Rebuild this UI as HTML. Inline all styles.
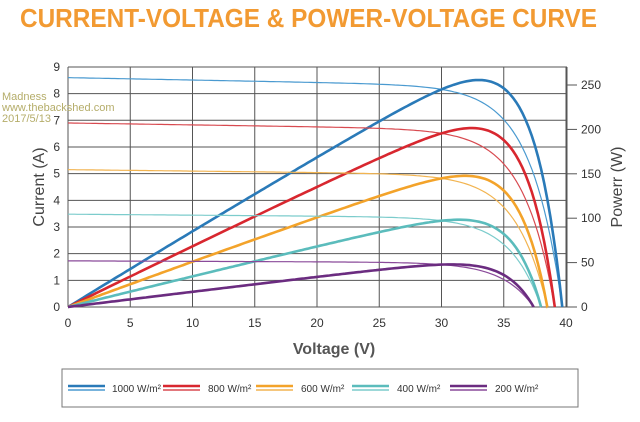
<!DOCTYPE html>
<html><head><meta charset="utf-8"><style>
body{margin:0;background:#fff;}
svg{display:block;font-family:"Liberation Sans",sans-serif;}
</style></head><body>
<svg id="s" width="640" height="422" viewBox="0 0 640 422" xmlns="http://www.w3.org/2000/svg">
<rect width="640" height="422" fill="#fff"/>
<text x="20" y="27" font-size="26" font-weight="bold" fill="#f29a32" textLength="577" lengthAdjust="spacingAndGlyphs">CURRENT-VOLTAGE &amp; POWER-VOLTAGE CURVE</text>
<g id="grid" stroke="#555" stroke-width="1"></g>
<g id="curves" fill="none"></g>
<g id="labels" font-size="12" fill="#333"></g>
<text transform="translate(44,187) rotate(-90)" text-anchor="middle" font-size="16" fill="#444">Current (A)</text>
<text transform="translate(622,187) rotate(-90)" text-anchor="middle" font-size="16" fill="#444">Powerr (W)</text>
<text x="334" y="354" text-anchor="middle" font-size="16" font-weight="bold" fill="#555">Voltage (V)</text>
<g font-size="11" fill="#b5ad6a">
<text x="2" y="100">Madness</text>
<text x="2" y="111">www.thebackshed.com</text>
<text x="2" y="122">2017/5/13</text>
</g>
<rect x="62" y="369" width="516" height="38" fill="none" stroke="#777" stroke-width="1"/>
<g id="legend" font-size="10" fill="#333"></g>
</svg>
<script>
var NS="http://www.w3.org/2000/svg";
function el(p,t,a,txt){var e=document.createElementNS(NS,t);for(var k in a)e.setAttribute(k,a[k]);if(txt)e.textContent=txt;document.getElementById(p).appendChild(e);return e;}
var X=function(v){return 68+v*12.45;},Y=function(a){return 307-a*26.67;};
for(var i=0;i<=9;i++){el("grid","line",{x1:68,x2:567,y1:Y(i),y2:Y(i)});el("labels","text",{x:60,y:Y(i)+4,"text-anchor":"end"},""+i);}
for(var v=0;v<=40;v+=5){el("grid","line",{x1:X(v),x2:X(v),y1:67,y2:307});el("labels","text",{x:X(v),y:327,"text-anchor":"middle"},""+v);}
for(var w=0;w<=250;w+=50){var y=307-w*222/250;el("grid","line",{x1:567,x2:577,y1:y,y2:y});el("labels","text",{x:581,y:y+4},""+w);}
var S=[["#2a7ab8","#4a9ad0",8.6,39.7,"1000 W/m\u00b2"],["#d8272f","#d84a50",6.9,39.1,"800 W/m\u00b2"],["#f3a32a","#f2b450",5.15,38.5,"600 W/m\u00b2"],["#5bbcbc","#7ccccc",3.48,38.0,"400 W/m\u00b2"],["#6b2c80","#8a4a9a",1.73,37.4,"200 W/m\u00b2"]];
var lx=[68,163,256,352,450];
S.forEach(function(s,k){
 var isc=s[2],voc=s[3],vt=2.5,sl=0.009*isc/8.6;
 var i0=(isc-sl*voc)/(Math.exp(voc/vt)-1);
 var pi="",pp="";
 for(var v=0;v<=voc+0.001;v+=0.25){var vv=Math.min(v,voc);var I=isc-sl*vv-i0*(Math.exp(vv/vt)-1);if(I<0)I=0;
  pi+=(v==0?"M":"L")+X(vv).toFixed(1)+" "+Y(I).toFixed(1);
  pp+=(v==0?"M":"L")+X(vv).toFixed(1)+" "+Y(vv*I/30).toFixed(1);}
 pi+="L"+X(voc)+" "+Y(0);pp+="L"+X(voc)+" "+Y(0);
 el("curves","path",{d:pi,stroke:s[1],"stroke-width":1.2});
 el("curves","path",{d:pp,stroke:s[0],"stroke-width":2.6});
 el("legend","line",{x1:lx[k],x2:lx[k]+37,y1:386,y2:386,stroke:s[0],"stroke-width":2.4});
 el("legend","line",{x1:lx[k],x2:lx[k]+37,y1:390,y2:390,stroke:s[1],"stroke-width":1.4});
 el("legend","text",{x:lx[k]+(k==0?44:45),y:392},s[4]);
});
el("grid","line",{x1:68,x2:68,y1:67,y2:307});
el("grid","line",{x1:567,x2:567,y1:67,y2:307});
</script>
</body></html>
